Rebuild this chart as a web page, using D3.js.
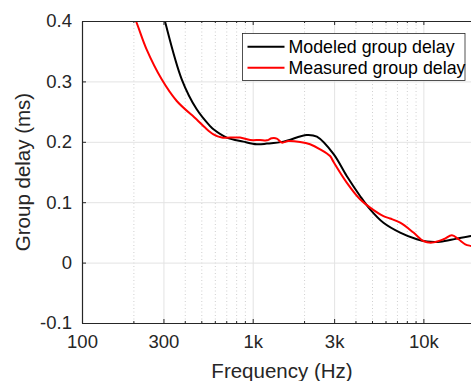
<!DOCTYPE html>
<html>
<head>
<meta charset="utf-8">
<script src="https://cdn.jsdelivr.net/npm/d3@7"></script>
<style>
  body { margin: 0; background: #fff; }
  svg { display: block; font-family: "Liberation Sans", Arial, sans-serif; }
  .axis path, .axis line { stroke: #262626; }
  .axis text { fill: #262626; font-size: 18.5px; }
  .grid line { stroke: #e3e3e3; }
  .grid path, .mgrid path { display: none; }
  .mgrid line { stroke: #cfcfcf; stroke-dasharray: 1,2.5; }
</style>
</head>
<body>
<div id="chart"></div>
<script>
// frequency (Hz) / group delay (ms)
var modeledFreq = [280, 306, 384, 470, 563, 589, 705, 882, 1057, 1210, 1513, 2075, 2377, 2972, 3556, 4256, 4874, 5837, 7310, 9160, 10480, 12530, 15700, 19050, 22050];
var modeledDelay = [0.445, 0.4, 0.3035, 0.2538, 0.226, 0.2207, 0.207, 0.2003, 0.196, 0.197, 0.2003, 0.2113, 0.2085, 0.18, 0.1434, 0.1103, 0.0882, 0.066, 0.0497, 0.0386, 0.0348, 0.0345, 0.0397, 0.044, 0.046];

var measuredFreq = [180, 207, 239, 293, 359, 470, 526, 589, 659, 738, 843, 966, 1104, 1210, 1293, 1384, 1482, 1619, 1895, 2168, 2483, 2840, 2972, 3556, 4256, 4874, 5837, 6383, 7310, 8750, 10000, 11220, 13120, 14690, 16070, 17590, 19050, 22050];
var measuredDelay = [0.44, 0.4, 0.353, 0.3035, 0.2676, 0.237, 0.2235, 0.2124, 0.207, 0.207, 0.207, 0.203, 0.203, 0.2025, 0.2058, 0.2053, 0.1987, 0.2013, 0.1997, 0.1959, 0.1876, 0.1765, 0.167, 0.1325, 0.1048, 0.091, 0.077, 0.073, 0.066, 0.0497, 0.0358, 0.0331, 0.0386, 0.0452, 0.0386, 0.0303, 0.0275, 0.024];

var xMajor = [100, 300, 1000, 3000, 10000];
var xMajorLabels = ['100', '300', '1k', '3k', '10k'];
var xMinor = [200, 400, 500, 600, 700, 800, 900, 2000, 4000, 5000, 6000, 7000, 8000, 9000, 20000];
var yTicks = [-0.1, 0, 0.1, 0.2, 0.3, 0.4];
var yTickLabels = ['-0.1', '0', '0.1', '0.2', '0.3', '0.4'];

var seriesNames = ['Modeled group delay', 'Measured group delay'];
var seriesColors = ['#000000', '#ff0000'];

var W = 471, H = 381;
var m = {left: 82, top: 21, right: 482, bottom: 323};

var svg = d3.select('#chart').append('svg')
    .attr('width', W)
    .attr('height', H);

var x = d3.scaleLog().domain([100, 22050]).range([m.left, m.right]);
var y = d3.scaleLinear().domain([-0.1, 0.4]).range([m.bottom, m.top]);
var ph = m.bottom - m.top, pw = m.right - m.left;

// grid
svg.append('g').attr('class', 'mgrid')
    .attr('transform', 'translate(0,' + m.bottom + ')')
    .call(d3.axisBottom(x).tickValues(xMinor).tickSize(-ph).tickFormat(''));
svg.append('g').attr('class', 'grid')
    .attr('transform', 'translate(0,' + m.bottom + ')')
    .call(d3.axisBottom(x).tickValues(xMajor.slice(1)).tickSize(-ph).tickFormat(''));
svg.append('g').attr('class', 'grid')
    .attr('transform', 'translate(' + m.left + ',0)')
    .call(d3.axisLeft(y).tickValues(yTicks.slice(1, -1)).tickSize(-pw).tickFormat(''));

svg.append('clipPath').attr('id', 'clip')
    .append('rect')
    .attr('x', m.left).attr('y', m.top)
    .attr('width', pw).attr('height', ph);

var line = d3.line()
    .x(function(d) { return x(d[0]); })
    .y(function(d) { return y(d[1]); })
    .curve(d3.curveCatmullRom.alpha(0.5));

var series = [
    d3.zip(modeledFreq, modeledDelay),
    d3.zip(measuredFreq, measuredDelay)
];

svg.append('g').attr('clip-path', 'url(#clip)')
    .selectAll('path')
    .data(series)
    .enter().append('path')
    .attr('d', line)
    .attr('fill', 'none')
    .attr('stroke', function(d, i) { return seriesColors[i]; })
    .attr('stroke-width', 2);

// axes
var xAxis = svg.append('g').attr('class', 'axis')
    .attr('transform', 'translate(0,' + m.bottom + ')')
    .call(d3.axisBottom(x).tickValues(xMajor).tickSizeInner(-4).tickSizeOuter(0)
        .tickPadding(9)
        .tickFormat(function(d, i) { return xMajorLabels[i]; }));
xAxis.selectAll('text').attr('dy', '0.85em');
svg.append('g').attr('class', 'axis')
    .attr('transform', 'translate(0,' + m.bottom + ')')
    .call(d3.axisBottom(x).tickValues(xMinor).tickSizeInner(-2).tickSizeOuter(0).tickFormat(''))
    .select('path').remove();

svg.append('g').attr('class', 'axis')
    .attr('transform', 'translate(0,' + m.top + ')')
    .call(d3.axisTop(x).tickValues(xMajor).tickSizeInner(-4).tickSizeOuter(0).tickFormat(''));
svg.append('g').attr('class', 'axis')
    .attr('transform', 'translate(0,' + m.top + ')')
    .call(d3.axisTop(x).tickValues(xMinor).tickSizeInner(-2).tickSizeOuter(0).tickFormat(''))
    .select('path').remove();

svg.append('g').attr('class', 'axis')
    .attr('transform', 'translate(' + m.left + ',0)')
    .call(d3.axisLeft(y).tickValues(yTicks).tickSizeInner(-4).tickSizeOuter(0)
        .tickPadding(10)
        .tickFormat(function(d, i) { return yTickLabels[i]; }));

svg.selectAll('.axis path').attr('stroke-width', 1.2);

// axis labels
svg.append('text')
    .attr('x', (m.left + m.right) / 2)
    .attr('y', 378)
    .attr('text-anchor', 'middle')
    .attr('fill', '#262626')
    .style('font-size', '20.5px')
    .text('Frequency (Hz)');

svg.append('text')
    .attr('transform', 'translate(30,' + (m.top + m.bottom) / 2 + ') rotate(-90)')
    .attr('text-anchor', 'middle')
    .attr('fill', '#262626')
    .style('font-size', '20.5px')
    .text('Group delay (ms)');

// legend
var lg = svg.append('g');
lg.append('rect')
    .attr('x', 242.5).attr('y', 33.5)
    .attr('width', 222.5).attr('height', 47)
    .attr('fill', '#fff')
    .attr('stroke', '#262626')
    .attr('stroke-width', 0.8);
seriesNames.forEach(function(name, i) {
    var ly = 46.7 + i * 21;
    lg.append('line')
        .attr('x1', 247.5).attr('x2', 284.5)
        .attr('y1', ly).attr('y2', ly)
        .attr('stroke', seriesColors[i])
        .attr('stroke-width', 2);
    lg.append('text')
        .attr('x', 288.5).attr('y', ly + 6.5)
        .attr('fill', '#000')
        .style('font-size', '17.8px')
        .text(name);
});
</script>
</body>
</html>
